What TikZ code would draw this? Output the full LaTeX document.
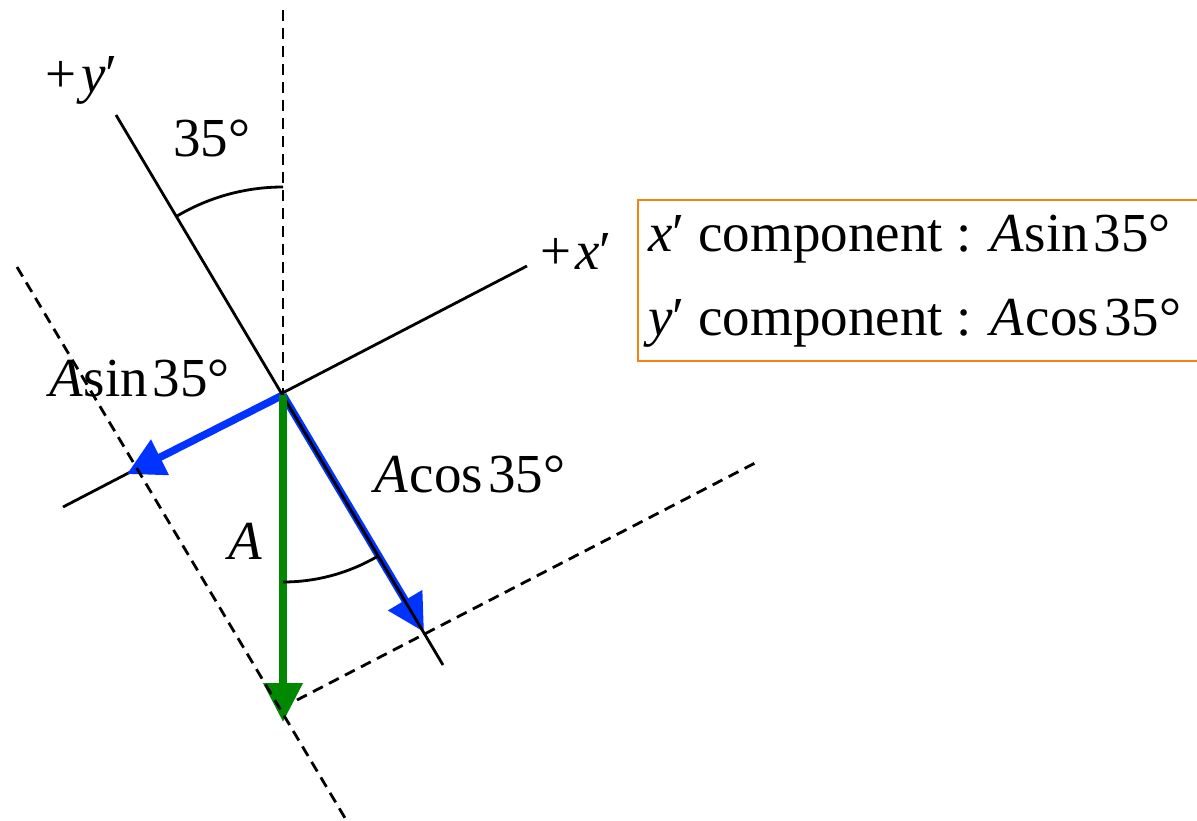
\documentclass[tikz,border=0pt]{standalone}
\usepackage{fontspec}
\setmainfont{Liberation Serif}
\usetikzlibrary{arrows.meta}
\definecolor{vblue}{RGB}{0,51,255}
\definecolor{vgreen}{RGB}{0,136,0}
\definecolor{vorange}{RGB}{250,128,20}
\begin{document}
\begin{tikzpicture}[x=1pt,y=1pt,
  axis/.style={line width=2.8pt,black},
  guide/.style={line width=2.8pt,black,dash pattern=on 11pt off 7pt},
  comp/.style={line width=7.5pt,vblue,-{Triangle[length=37pt,width=38pt]}},
  vec/.style={line width=7.5pt,vgreen,-{Triangle[length=39pt,width=38pt]}},
  lbl/.style={inner sep=0pt,anchor=base west,font=\fontsize{55}{66}\selectfont},
  anglearc/.style={line width=2.8pt,black},
  infobox/.style={vorange,line width=2.2pt}]
\useasboundingbox (0,0) rectangle (1197,820);
% points
\coordinate (O) at (283,425);
\coordinate (vtop) at (283,810);
\coordinate (ytop) at (116,705);
\coordinate (ybot) at (443,155);
\coordinate (xleft) at (63,313);
\coordinate (xright) at (527,554);
\coordinate (xtip) at (127,346);
\coordinate (ytip) at (424,188);
\coordinate (gtip) at (283,98);
\coordinate (d1a) at (297,120);
\coordinate (d1b) at (757,358);
\coordinate (d2a) at (17,553);
\coordinate (d2b) at (345,2);
% x' axis and its component
\draw[axis] (xleft) -- (xright);
\draw[comp] (O) -- (xtip);
% y' component and y' axis
\draw[comp] (O) -- (ytip);
\draw[axis] (ytop) -- (ybot);
% vector A
\draw[vec] (O) -- (gtip);
% dashed guides
\draw[guide] (vtop) -- (O);
\draw[guide] (d1a) -- (d1b);
\draw[guide] (d2a) -- (d2b);
% angle arcs
\draw[anglearc] ([shift={(90:208pt)}]O) arc[start angle=90, end angle=121, radius=208pt];
\draw[anglearc] ([shift={(270:187pt)}]O) arc[start angle=270, end angle=300.6, radius=187pt];
% labels
\node[lbl] (yl) at (45,727) {+\kern5pt{\itshape y}′};
\node[lbl] (ang1) at (173,663) {35°};
\node[lbl] (xl) at (540,550) {+\kern4pt{\itshape x}′};
\node[lbl] (asin) at (49,423) {{\itshape A}\kern1pt sin\kern5pt 35°};
\node[lbl] (al) at (228,260) {{\itshape A}};
\node[lbl] (acos) at (374,327) {{\itshape A}\kern2pt cos\kern5pt 35°};
% info box
\draw[infobox] (638,620) rectangle (1210,459);
\node[lbl] (l1) at (648,568) {{\itshape x}′ component : {\itshape A}\kern1pt sin\kern5pt 35°};
\node[lbl] (l2) at (648,484) {{\itshape y}′ component : {\itshape A}\kern2pt cos\kern5pt 35°};
\end{tikzpicture}
\end{document}
